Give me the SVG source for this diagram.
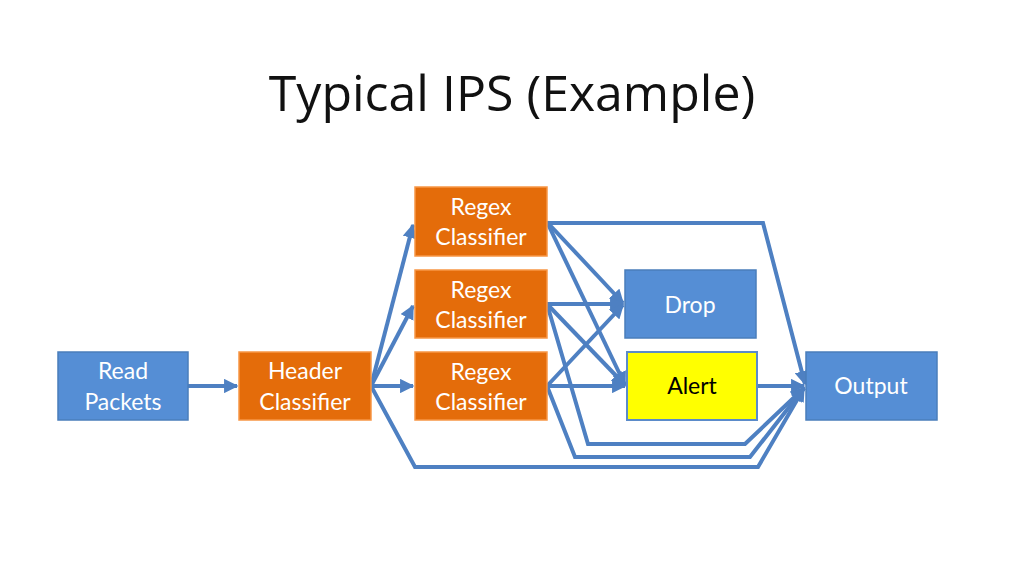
<svg xmlns="http://www.w3.org/2000/svg" width="1024" height="576" viewBox="0 0 1024 576">
<defs>
<style>
.title{font-family:"Open Sans","Noto Sans",sans-serif;font-size:50px;fill:#111;}
.t{font-family:Lato,"Open Sans",sans-serif;font-size:23px;fill:#fff;text-anchor:middle;}
.blue{fill:#558ED5;stroke:#4A7EBB;stroke-width:1.5;}
.orange{fill:#E46C0A;stroke:#F79646;stroke-width:1.5;}
.yellow{fill:#FFFF00;stroke:#5B8BC9;stroke-width:2;}
.c{fill:none;stroke:#4E80C2;stroke-width:4;stroke-linejoin:miter;}
</style>
<marker id="ah" viewBox="0 0 10 10" refX="9" refY="5" markerWidth="3.6" markerHeight="3.6" orient="auto" markerUnits="strokeWidth">
<path d="M0,0 L10,5 L0,10 z" fill="#4E80C2"/>
</marker>
</defs>
<rect width="1024" height="576" fill="#fff"/>
<text class="title" x="512" y="111" text-anchor="middle">Typical IPS (Example)</text>

<g id="connectors">
<path class="c" d="M188,386 L237,386" marker-end="url(#ah)"/>
<path class="c" d="M371,386 L413,225" marker-end="url(#ah)"/>
<path class="c" d="M371,386 L413,306" marker-end="url(#ah)"/>
<path class="c" d="M371,386 L413,386" marker-end="url(#ah)"/>
<path class="c" d="M371,386 L415,467 L758,467 L804,388" marker-end="url(#ah)"/>
<path class="c" d="M547,222 L623,303" marker-end="url(#ah)"/>
<path class="c" d="M547,222 L625,385" marker-end="url(#ah)"/>
<path class="c" d="M547,223 L763,223 L805,384" marker-end="url(#ah)"/>
<path class="c" d="M547,304 L623,304" marker-end="url(#ah)"/>
<path class="c" d="M547,304 L625,385" marker-end="url(#ah)"/>
<path class="c" d="M547,304 L588,444 L745,444 L804,388" marker-end="url(#ah)"/>
<path class="c" d="M547,386 L623,305" marker-end="url(#ah)"/>
<path class="c" d="M547,386 L625,386" marker-end="url(#ah)"/>
<path class="c" d="M547,386 L575,457 L750,457 L804,388" marker-end="url(#ah)"/>
<path class="c" d="M757,386 L804,386" marker-end="url(#ah)"/>
</g>

<g id="read-packets">
<rect class="blue" x="58" y="352" width="130" height="68"/>
<text class="t" x="123" y="379">Read</text>
<text class="t" x="123" y="410">Packets</text>
</g>
<g id="header-classifier">
<rect class="orange" x="239" y="352" width="132" height="68"/>
<text class="t" x="305" y="379">Header</text>
<text class="t" x="305" y="410">Classifier</text>
</g>
<g id="regex-1">
<rect class="orange" x="415" y="187" width="132" height="69"/>
<text class="t" x="481" y="215">Regex</text>
<text class="t" x="481" y="245">Classifier</text>
</g>
<g id="regex-2">
<rect class="orange" x="415" y="270" width="132" height="68"/>
<text class="t" x="481" y="298">Regex</text>
<text class="t" x="481" y="328">Classifier</text>
</g>
<g id="regex-3">
<rect class="orange" x="415" y="352" width="132" height="68"/>
<text class="t" x="481" y="380">Regex</text>
<text class="t" x="481" y="410">Classifier</text>
</g>
<g id="drop">
<rect class="blue" x="625" y="270" width="131" height="68"/>
<text class="t" x="690" y="313">Drop</text>
</g>
<g id="alert">
<rect class="yellow" x="627" y="352" width="130" height="68"/>
<text class="t" x="692" y="394" style="fill:#000">Alert</text>
</g>
<g id="output">
<rect class="blue" x="806" y="352" width="131" height="68"/>
<text class="t" x="871" y="394">Output</text>
</g>
</svg>
